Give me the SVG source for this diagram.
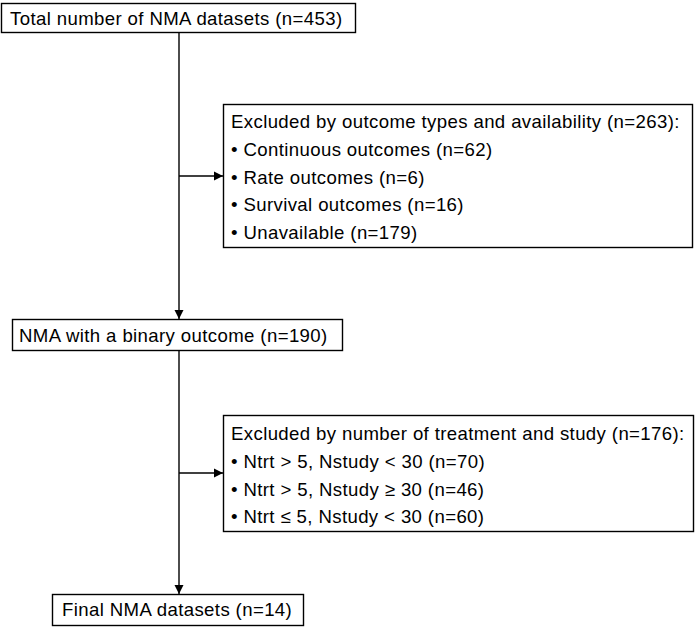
<svg xmlns="http://www.w3.org/2000/svg" width="698" height="628" viewBox="0 0 698 628">
<defs>
<marker id="arr" viewBox="0 0 10 10" refX="10" refY="5" markerWidth="9" markerHeight="10" markerUnits="userSpaceOnUse" orient="auto">
<path d="M0,0 L10,5 L0,10 z" fill="#000"/>
</marker>
<style>
.box{fill:#fff;stroke:#000;stroke-width:1.4}
.t{font-family:"Liberation Sans",Arial,sans-serif;font-size:18.6px;letter-spacing:0.38px;fill:#000}
.c{fill:none;stroke:#000;stroke-width:1.4}
</style>
</defs>
<rect width="698" height="628" fill="#fff"/>
<g id="connectors">
<line class="c" x1="179" y1="32" x2="179" y2="319" marker-end="url(#arr)"/>
<line class="c" x1="179" y1="176" x2="223" y2="176" marker-end="url(#arr)"/>
<line class="c" x1="179" y1="351" x2="179" y2="594" marker-end="url(#arr)"/>
<line class="c" x1="179" y1="473" x2="223" y2="473" marker-end="url(#arr)"/>
</g>
<g id="n1">
<rect class="box" x="1.5" y="3.5" width="354" height="29"/>
<text class="t" x="10" y="24.5">Total number of NMA datasets (n=453)</text>
</g>
<g id="n2">
<rect class="box" x="223.5" y="104.5" width="469" height="143"/>
<text class="t" x="231" y="128">Excluded by outcome types and availability (n=263):</text>
<text class="t" x="231" y="156">• Continuous outcomes (n=62)</text>
<text class="t" x="231" y="183.5">• Rate outcomes (n=6)</text>
<text class="t" x="231" y="211">• Survival outcomes (n=16)</text>
<text class="t" x="231" y="238.5">• Unavailable (n=179)</text>
</g>
<g id="n3">
<rect class="box" x="12.5" y="319.5" width="330" height="31"/>
<text class="t" x="19" y="342">NMA with a binary outcome (n=190)</text>
</g>
<g id="n4">
<rect class="box" x="223.5" y="415.5" width="470" height="116"/>
<text class="t" x="231" y="440">Excluded by number of treatment and study (n=176):</text>
<text class="t" x="231" y="468">• Ntrt &gt; 5, Nstudy &lt; 30 (n=70)</text>
<text class="t" x="231" y="495.5">• Ntrt &gt; 5, Nstudy ≥ 30 (n=46)</text>
<text class="t" x="231" y="523">• Ntrt ≤ 5, Nstudy &lt; 30 (n=60)</text>
</g>
<g id="n5">
<rect class="box" x="52.5" y="594.5" width="251" height="31"/>
<text class="t" x="62" y="616">Final NMA datasets (n=14)</text>
</g>
</svg>
